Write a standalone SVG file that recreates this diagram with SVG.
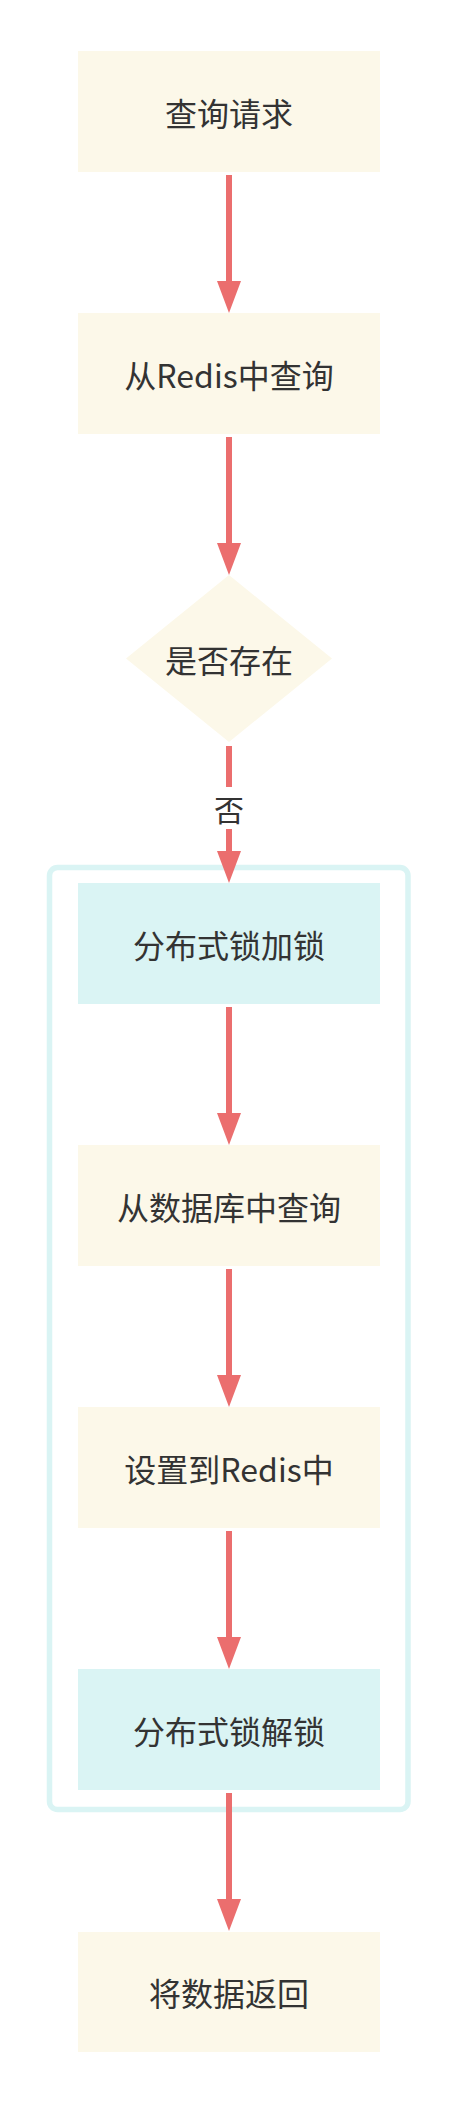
<svg xmlns="http://www.w3.org/2000/svg" width="458" height="2104" viewBox="0 0 458 2104">
<style>
.box{fill:#fcf8e9}
.blue{fill:#daf4f4}
.lbl{font-family:"Noto Sans CJK SC","Microsoft YaHei",sans-serif;font-size:32px;fill:#333;text-anchor:middle;dominant-baseline:central}
.edge{stroke:#eb6e6e;stroke-width:6;fill:none}
.head{fill:#eb6e6e}
</style>
<rect width="458" height="2104" fill="#fff"/>
<g id="cluster">
<rect x="49.5" y="867.5" width="358.5" height="942" rx="8" ry="8" fill="none" stroke="#daf4f4" stroke-width="5.5"/>
</g>
<g id="n1"><rect class="box" x="78" y="51" width="302" height="121"/><text class="lbl" x="229" y="112">查询请求</text></g>
<g id="n2"><rect class="box" x="78" y="313" width="302" height="121"/><text class="lbl" x="229" y="374">从Redis中查询</text></g>
<g id="n3"><polygon class="box" points="229,575 332,658.5 229,742 126,658.5"/><text class="lbl" x="229" y="659">是否存在</text></g>
<g id="n4"><rect class="blue" x="78" y="883" width="302" height="121"/><text class="lbl" x="229" y="944">分布式锁加锁</text></g>
<g id="n5"><rect class="box" x="78" y="1145" width="302" height="121"/><text class="lbl" x="229" y="1206">从数据库中查询</text></g>
<g id="n6"><rect class="box" x="78" y="1407" width="302" height="121"/><text class="lbl" x="229" y="1468">设置到Redis中</text></g>
<g id="n7"><rect class="blue" x="78" y="1669" width="302" height="121"/><text class="lbl" x="229" y="1730">分布式锁解锁</text></g>
<g id="n8"><rect class="box" x="78" y="1932" width="302" height="120"/><text class="lbl" x="229" y="1992">将数据返回</text></g>
<g id="edges">
<line class="edge" x1="229" y1="175" x2="229" y2="283"/><polygon class="head" points="217,281 241,281 229,313"/>
<line class="edge" x1="229" y1="437" x2="229" y2="545"/><polygon class="head" points="217,543 241,543 229,575"/>
<line class="edge" x1="229" y1="746" x2="229" y2="853"/><polygon class="head" points="217,851 241,851 229,883"/>
<rect x="212" y="787" width="34" height="42" fill="#fff"/><text class="lbl" x="229" y="808" style="font-size:30px">否</text>
<line class="edge" x1="229" y1="1007" x2="229" y2="1115"/><polygon class="head" points="217,1113 241,1113 229,1145"/>
<line class="edge" x1="229" y1="1269" x2="229" y2="1377"/><polygon class="head" points="217,1375 241,1375 229,1407"/>
<line class="edge" x1="229" y1="1531" x2="229" y2="1639"/><polygon class="head" points="217,1637 241,1637 229,1669"/>
<line class="edge" x1="229" y1="1793" x2="229" y2="1901"/><polygon class="head" points="217,1899 241,1899 229,1931"/>
</g>
</svg>
